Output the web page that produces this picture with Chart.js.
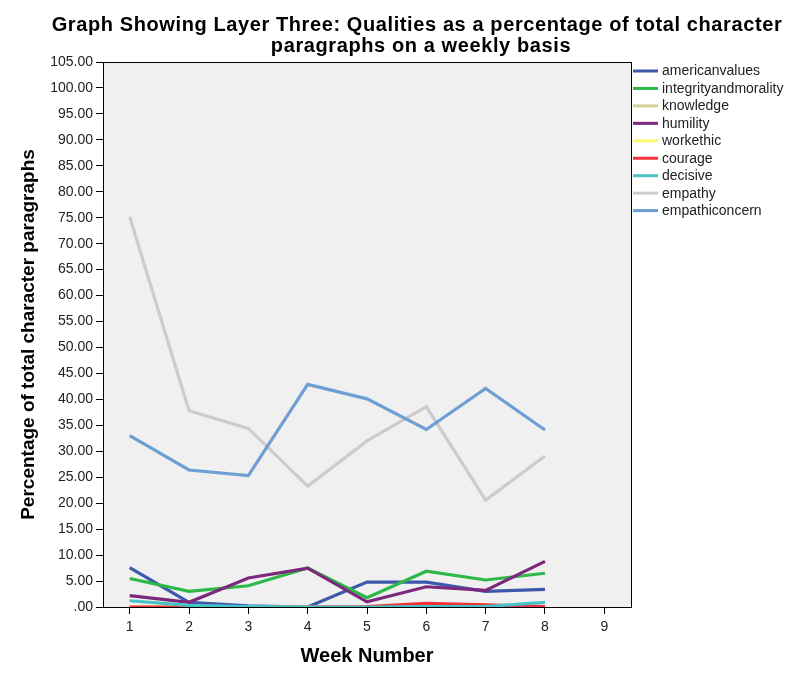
<!DOCTYPE html>
<html>
<head>
<meta charset="utf-8">
<script src="https://cdn.jsdelivr.net/npm/chart.js@4.4.1/dist/chart.umd.min.js"></script>
<style>
  html, body { margin: 0; padding: 0; background: #fff; }
  #wrap { width: 799px; height: 687px; }
</style>
</head>
<body>
<div id="wrap"><canvas id="grafico" width="799" height="687"></canvas></div>
<script>
// semanas y series
const weeks = [1, 2, 3, 4, 5, 6, 7, 8];
const xTicks = [1, 2, 3, 4, 5, 6, 7, 8, 9];
const seriesNames = ['americanvalues', 'integrityandmorality', 'knowledge', 'humility', 'workethic', 'courage', 'decisive', 'empathy', 'empathiconcern'];

const americanvalues = [7.6, 0.9, 0.2, 0.0, 4.8, 4.8, 3.0, 3.4];
const integrityandmorality = [5.5, 3.0, 4.1, 7.5, 1.8, 6.9, 5.2, 6.5];
const knowledge = [0, 0, 0, 0, 0, 0, 0, 0];
const humility = [2.2, 0.9, 5.6, 7.5, 1.0, 3.9, 3.2, 8.8];
const workethic = [0, 0, 0, 0, 0, 0, 0, 0];
const courage = [0.0, 0.0, 0.0, 0.0, 0.1, 0.7, 0.4, 0.1];
const decisive = [1.2, 0.3, 0.1, 0.0, 0.0, 0.1, 0.1, 0.9];
const empathy = [75.2, 37.8, 34.4, 23.3, 32.0, 38.6, 20.6, 29.1];
const empathiconcern = [33.0, 26.4, 25.3, 42.9, 40.1, 34.2, 42.1, 34.1];

const seriesValues = [americanvalues, integrityandmorality, knowledge, humility, workethic, courage, decisive, empathy, empathiconcern];
const colors = ['#3E58AC', '#2EB848', '#D3CE97', '#7C287D', '#FBF873', '#EF3338', '#48C2C5', '#CCCCCC', '#6D9FD5'];

const titleLines = ['Graph Showing Layer Three: Qualities as a percentage of total character', 'paragraphs on a weekly basis'];

const FONT = "'Liberation Sans', Arial, sans-serif";

// fondo gris, marco, título y leyenda dibujados a mano
const spssLook = {
  id: 'spssLook',
  beforeDatasetsDraw(chart) {
    const { ctx, chartArea: a } = chart;
    ctx.save();
    ctx.fillStyle = '#F0F0F0';
    ctx.fillRect(a.left, a.top, a.right - a.left, a.bottom - a.top);
    ctx.restore();
  },
  afterDraw(chart) {
    const { ctx, chartArea: a } = chart;
    ctx.save();
    ctx.strokeStyle = '#000';
    ctx.lineWidth = 1;
    ctx.strokeRect(a.left + 0.5, a.top + 0.5, a.right - a.left, a.bottom - a.top);

    // título
    ctx.fillStyle = '#000';
    ctx.font = 'bold 20px ' + FONT;
    ctx.letterSpacing = '0.6px';
    ctx.textAlign = 'center';
    ctx.textBaseline = 'middle';
    ctx.fillText(titleLines[0], 417, 25, 745);
    ctx.fillText(titleLines[1], 421, 46, 745);
    ctx.letterSpacing = '0px';

    // leyenda
    ctx.font = '14px ' + FONT;
    ctx.textAlign = 'left';
    seriesNames.forEach((name, i) => {
      const y = 71 + i * 17.45;
      ctx.strokeStyle = colors[i];
      ctx.lineWidth = 3;
      ctx.beginPath();
      ctx.moveTo(633, y);
      ctx.lineTo(658, y);
      ctx.stroke();
      ctx.fillStyle = '#222';
      ctx.fillText(name, 662, y + 0.5);
    });
    ctx.restore();
  }
};

const datasets = seriesNames.map((name, i) => ({
  label: name,
  data: weeks.map((w, k) => ({ x: w, y: seriesValues[i][k] })),
  borderColor: colors[i],
  backgroundColor: colors[i],
  borderWidth: 3.2,
  pointRadius: 0,
  tension: 0,
  order: seriesNames.length - i
}));

new Chart(document.getElementById('grafico'), {
  type: 'line',
  data: { datasets },
  plugins: [spssLook],
  options: {
    responsive: false,
    animation: false,
    layout: { padding: { top: 62, right: 168, left: 0, bottom: 0 } },
    plugins: {
      legend: { display: false },
      tooltip: { enabled: false },
      title: { display: false }
    },
    scales: {
      x: {
        type: 'linear',
        min: 0.55,
        max: 9.45,
        afterBuildTicks: s => { s.ticks = xTicks.map(v => ({ value: v })); },
        afterFit: s => { s.height = 80; },
        ticks: { color: '#222', font: { family: FONT, size: 14 }, padding: 5, callback: v => String(v) },
        grid: { drawOnChartArea: false, drawTicks: true, tickLength: 7, color: '#000' },
        border: { display: true, color: '#000' },
        title: {
          display: true,
          text: 'Week Number',
          color: '#000',
          font: { family: FONT, size: 20, weight: 'bold' },
          padding: { top: 0, bottom: 19 }
        }
      },
      y: {
        min: 0,
        max: 105,
        afterFit: s => { s.width = 103; },
        ticks: {
          stepSize: 5,
          color: '#222',
          font: { family: FONT, size: 14 },
          padding: 3,
          callback: v => v === 0 ? '.00' : v.toFixed(2)
        },
        grid: { drawOnChartArea: false, drawTicks: true, tickLength: 7, color: '#000' },
        border: { display: true, color: '#000' },
        title: {
          display: true,
          text: 'Percentage of total character paragraphs',
          color: '#000',
          font: { family: FONT, size: 19, weight: 'bold' },
          padding: { top: 17, bottom: 0 }
        }
      }
    }
  }
});
</script>
</body>
</html>
